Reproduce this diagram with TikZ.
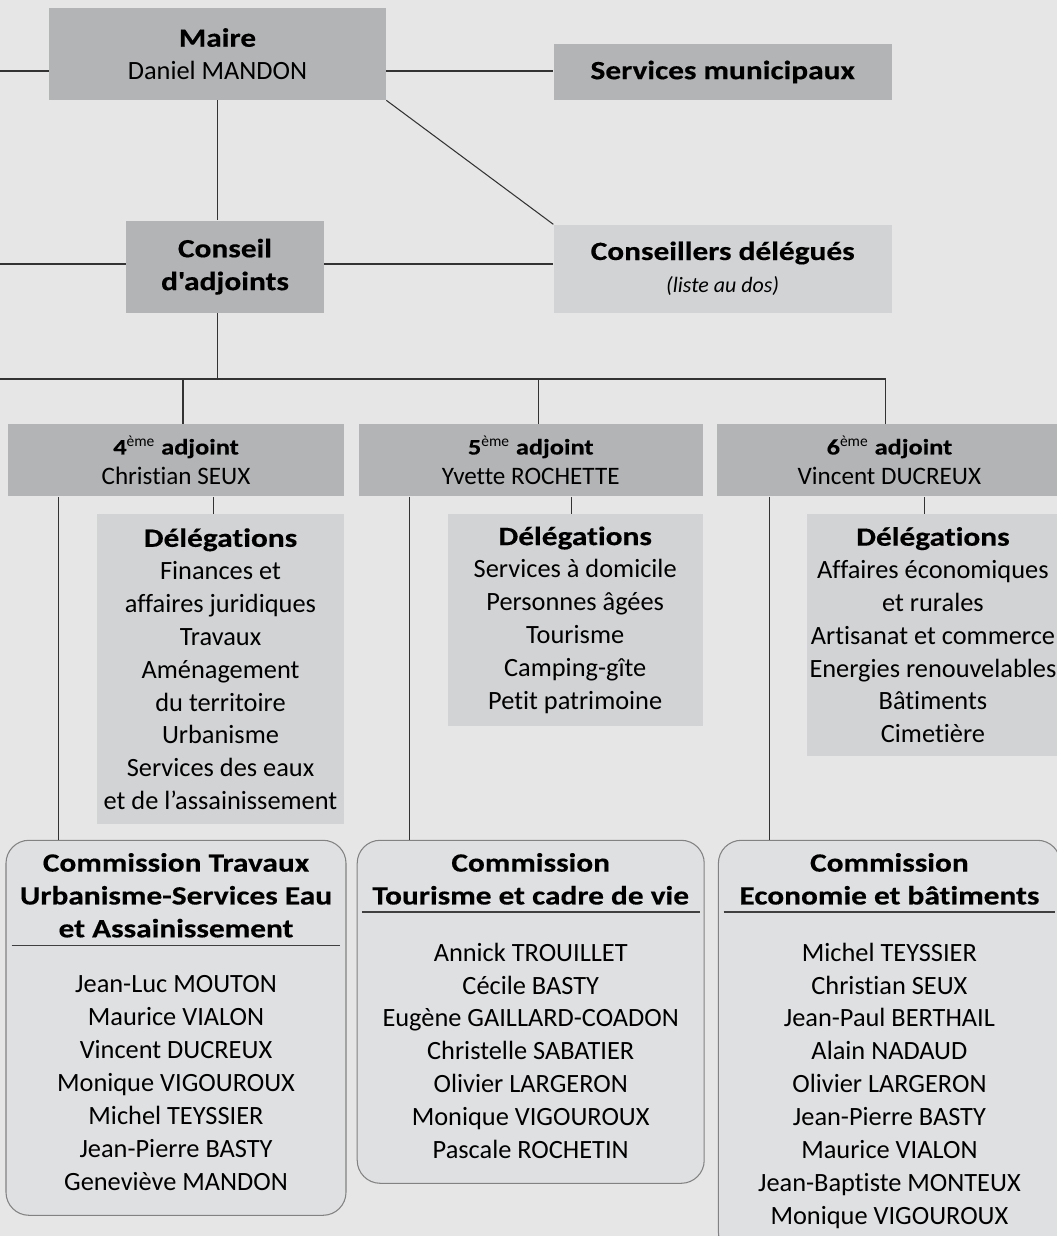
\documentclass[tikz,border=0pt]{standalone}
\usepackage{fontspec}
\setmainfont{Carlito}[Ligatures={TeX,NoCommon},
  BoldFeatures={FakeStretch=1.19,FakeBold=0.4}]
\usetikzlibrary{positioning}
\definecolor{pagegray}{RGB}{230,230,230}
\definecolor{boxdark}{RGB}{179,180,182}
\definecolor{boxlight}{RGB}{210,211,213}
\definecolor{commfill}{RGB}{223,224,226}
\definecolor{commline}{RGB}{130,130,130}
\newcommand{\orgtxt}{\fontsize{15}{18.7}\selectfont}
\newcommand{\adjtxt}{\fontsize{14.3}{17}\selectfont}
\newcommand{\adjhead}[1]{{\fontsize{12.6}{17}\selectfont\bfseries #1\textsuperscript{\mdseries ème} adjoint}}

\begin{document}
\begin{tikzpicture}[
      every node/.style={font=\orgtxt, align=center, inner sep=0pt},
      dark/.style={rectangle, fill=boxdark},
      light/.style={rectangle, fill=boxlight},
      adj/.style={dark, font=\adjtxt, minimum height=1.44cm},
      deleg/.style={light},
      comm/.style={rectangle, rounded corners=0.46cm, draw=commline,
                   line width=0.6pt, fill=commfill, minimum width=6.8cm},
      commtitle/.style={font=\orgtxt\bfseries},
      link/.style={draw=black!80, line width=0.6pt},
      rule/.style={draw=black!75, line width=0.6pt},
    ]
    \useasboundingbox (0,0) rectangle (21.14,-24.72);
    \clip (0,0) rectangle (21.14,-24.72);
    \fill[pagegray] (0,0) rectangle (21.14,-24.72);

    % Maire and services
    \node[dark, minimum width=6.74cm, minimum height=1.84cm] (maire) at (4.35,-1.08)
      {\textbf{Maire}\\Daniel MANDON};
    \node[dark, minimum width=6.76cm, minimum height=1.12cm,
          right=3.34cm of maire, yshift=-0.36cm] (services) {\textbf{Services municipaux}};
    \node[dark, minimum width=3.96cm, minimum height=1.84cm,
          below=2.4cm of maire, xshift=0.15cm] (conseil)
      {\textbf{Conseil}\\\textbf{d\textquotesingle adjoints}};
    \node[light, minimum width=6.76cm, minimum height=1.76cm,
          below=2.48cm of services] (conseillers)
      {\textbf{Conseillers délégués}\\{\fontsize{12.5}{15}\selectfont\itshape (liste au dos)}};

    % Adjoints
    \node[adj, minimum width=6.72cm, below=2.22cm of conseil, xshift=-0.98cm] (adj4)
      {\adjhead{4}\\Christian SEUX};
    \node[adj, minimum width=6.88cm, right=0.28cm of adj4] (adj5)
      {\adjhead{5}\\Yvette ROCHETTE};
    \node[adj, minimum width=6.88cm, right=0.28cm of adj5] (adj6)
      {\adjhead{6}\\Vincent DUCREUX};

    % Delegations
    \node[deleg, minimum width=4.94cm, minimum height=6.2cm,
          below left=0.34cm and 0cm of adj4.south east] (deleg4)
      {\textbf{Délégations}\\Finances et\\affaires juridiques\\Travaux\\Aménagement\\
       du territoire\\Urbanisme\\Services des eaux\\et de l’assainissement};
    \node[deleg, minimum width=5.1cm, minimum height=4.24cm,
          below left=0.34cm and 0cm of adj5.south east] (deleg5)
      {\textbf{Délégations}\\Services à domicile\\Personnes âgées\\Tourisme\\
       Camping-gîte\\Petit patrimoine};
    \node[deleg, minimum width=5.02cm, minimum height=4.84cm,
          below right=0.34cm and 1.8cm of adj6.south west] (deleg6)
      {\textbf{Délégations}\\Affaires économiques\\et rurales\\Artisanat et commerce\\
       Energies renouvelables\\Bâtiments\\Cimetière};

    % Commissions
    \node[comm, minimum height=7.5cm, below=6.86cm of adj4] (comm1) {};
    \node[comm, minimum width=6.94cm, minimum height=6.86cm, below=6.86cm of adj5] (comm2) {};
    \node[comm, minimum width=6.84cm, minimum height=8.3cm, below=6.86cm of adj6] (comm3) {};

    \node[commtitle, minimum width=6.56cm, below=0.26cm of comm1.north] (title1)
      {Commission Travaux\\Urbanisme-Services Eau\\et Assainissement};
    \node[commtitle, minimum width=6.74cm, below=0.26cm of comm2.north] (title2)
      {Commission\\Tourisme et cadre de vie};
    \node[commtitle, minimum width=6.62cm, below=0.26cm of comm3.north] (title3)
      {Commission\\Economie et bâtiments};
    \draw[rule] ([yshift=-0.16cm]title1.south west) -- ([yshift=-0.16cm]title1.south east);
    \draw[rule] ([yshift=-0.14cm]title2.south west) -- ([yshift=-0.14cm]title2.south east);
    \draw[rule] ([yshift=-0.14cm]title3.south west) -- ([yshift=-0.14cm]title3.south east);

    \node[below=0.75cm of title1] (names1)
      {Jean-Luc MOUTON\\Maurice VIALON\\Vincent DUCREUX\\Monique VIGOUROUX\\
       Michel TEYSSIER\\Jean-Pierre BASTY\\Geneviève MANDON};
    \node[below=0.75cm of title2] (names2)
      {Annick TROUILLET\\Cécile BASTY\\Eugène GAILLARD-COADON\\Christelle SABATIER\\
       Olivier LARGERON\\Monique VIGOUROUX\\Pascale ROCHETIN};
    \node[below=0.75cm of title3] (names3)
      {Michel TEYSSIER\\Christian SEUX\\Jean-Paul BERTHAIL\\Alain NADAUD\\
       Olivier LARGERON\\Jean-Pierre BASTY\\Maurice VIALON\\Jean-Baptiste MONTEUX\\
       Monique VIGOUROUX};

    % Links at the top
    \coordinate (edgeA) at (0,-1.42);
    \coordinate (edgeB) at (0,-5.28);
    \coordinate (bus) at (0,-7.58);
    \draw[link] (edgeA) -- (edgeA -| maire.west);
    \draw[link] (maire.east |- edgeA) -- (services.west |- edgeA);
    \draw[link] (maire.south) -- (maire.south |- conseil.north);
    \draw[link] (maire.south east) -- (conseillers.north west);
    \draw[link] (edgeB) -- (edgeB -| conseil.west);
    \draw[link] (conseil.east |- edgeB) -- (conseillers.west |- edgeB);

    % Links to the adjoints
    \coordinate (top4) at ([xshift=0.14cm]adj4.north);
    \coordinate (top5) at ([xshift=0.16cm]adj5.north);
    \coordinate (top6) at ([xshift=-0.08cm]adj6.north);
    \draw[link] (maire.south |- conseil.south) -- (maire.south |- bus);
    \draw[link] (bus) -- (bus -| top6) -- (top6);
    \draw[link] (top4 |- bus) -- (top4);
    \draw[link] (top5 |- bus) -- (top5);

    % Links below the adjoints
    \coordinate (foot4) at ([xshift=1.02cm]adj4.south west);
    \coordinate (foot5) at ([xshift=1.02cm]adj5.south west);
    \coordinate (foot6) at ([xshift=1.04cm]adj6.south west);
    \draw[link] (foot4) -- (foot4 |- comm1.north);
    \draw[link] (foot5) -- (foot5 |- comm2.north);
    \draw[link] (foot6) -- (foot6 |- comm3.north);
    \coordinate (dtop4) at ([xshift=2.34cm]deleg4.north west);
    \coordinate (dtop5) at ([xshift=2.48cm]deleg5.north west);
    \coordinate (dtop6) at ([xshift=2.34cm]deleg6.north west);
    \draw[link] (dtop4) -- (dtop4 |- adj4.south);
    \draw[link] (dtop5) -- (dtop5 |- adj5.south);
    \draw[link] (dtop6) -- (dtop6 |- adj6.south);
\end{tikzpicture}
\end{document}
